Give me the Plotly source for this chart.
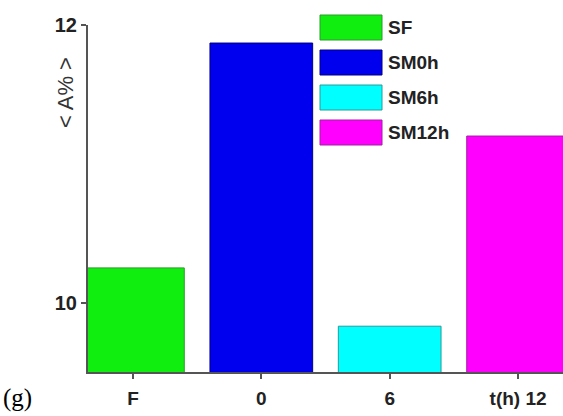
import plotly.graph_objects as go

categories = ["F", "0", "6", "t(h) 12"]
series_names = ["SF", "SM0h", "SM6h", "SM12h"]
values = [10.25, 11.87, 9.83, 11.20]
colors = ["#10ee10", "#0000ee", "#00ffff", "#ff00ff"]
edge_colors = ["#2a9a2a", "#000080", "#2a9a9a", "#a020a0"]

W, H = 563, 416
L, R, T, B = 88, 0, 25, 44

fig = go.Figure()
fig.add_trace(go.Bar(
    x=categories, y=values, width=0.8,
    marker=dict(color=colors, line=dict(color=edge_colors, width=1)),
    showlegend=False,
))

axis_color = "#555555"
sans = "Liberation Sans, Arial, sans-serif"
font_b = dict(family=sans, size=19, color="#222222")

fig.update_layout(
    width=W, height=H,
    margin=dict(l=L, r=R, t=T, b=B),
    plot_bgcolor="white", paper_bgcolor="white",
    xaxis=dict(
        type="category", range=[-0.35, 3.35],
        showline=True, linecolor=axis_color, linewidth=2,
        ticks="outside", ticklen=5, tickwidth=2, tickcolor=axis_color,
        tickfont=font_b, showgrid=False, zeroline=False,
        tickvals=categories, ticktext=["<b>%s</b>" % c for c in categories],
        ticklabelstandoff=3,
    ),
    yaxis=dict(
        range=[9.5, 12], tickvals=[10, 12], ticktext=["<b>10</b>", "<b>12</b>"],
        showline=True, linecolor=axis_color, linewidth=2,
        ticks="outside", ticklen=5, tickwidth=2, tickcolor=axis_color,
        tickfont=dict(family=sans, size=20, color="#222222"),
        showgrid=False, zeroline=False,
    ),
)

pw, ph = W - L - R, H - T - B
def px_x(p):
    return (p - L) / pw
def px_y(p):
    return (H - B - p) / ph

# legend (drawn manually)
rows = [(15, 40), (50, 75), (85, 110), (120, 145)]
for name, c, ec, (y0, y1) in zip(series_names, colors, edge_colors, rows):
    fig.add_shape(type="rect", xref="paper", yref="paper",
                  x0=px_x(320), x1=px_x(382), y0=px_y(y1), y1=px_y(y0),
                  fillcolor=c, line=dict(color=ec, width=1))
    fig.add_annotation(xref="paper", yref="paper", x=px_x(386), y=px_y((y0 + y1) / 2),
                       text="<b>%s</b>" % name, showarrow=False,
                       xanchor="left", yanchor="middle",
                       font=dict(family=sans, size=19, color="#222222"))

# y-axis title
fig.add_annotation(xref="paper", yref="paper", x=px_x(65), y=px_y(93),
                   text="< A% >", textangle=-90, showarrow=False,
                   xanchor="center", yanchor="middle",
                   font=dict(family=sans, size=22, color="#333333"))

# panel label
fig.add_annotation(xref="paper", yref="paper", x=px_x(1), y=px_y(398),
                   text="(g)", showarrow=False, xanchor="left", yanchor="middle",
                   font=dict(family="Liberation Serif, Times New Roman, serif", size=25, color="#000000"))

fig.write_html("out.html", config={"displayModeBar": False},
               post_script="document.body.style.margin='0';")
